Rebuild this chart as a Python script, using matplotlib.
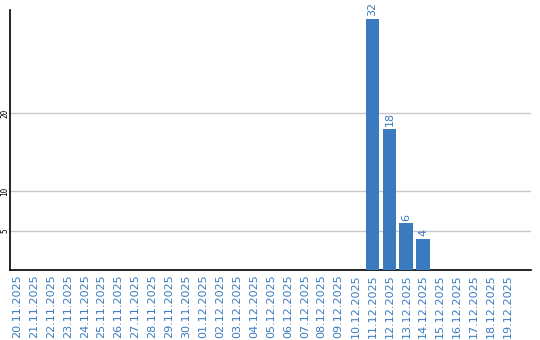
import matplotlib.pyplot as plt
import numpy as np
import datetime as dt

# Datoer fra 20.11.2025 til 19.12.2025
start = dt.date(2025, 11, 20)
datoer = [(start + dt.timedelta(days=i)).strftime('%d.%m.%Y') for i in range(30)]
verdier = [0] * 30
verdier[datoer.index('11.12.2025')] = 32
verdier[datoer.index('12.12.2025')] = 18
verdier[datoer.index('13.12.2025')] = 6
verdier[datoer.index('14.12.2025')] = 4

ytikker = [5, 10, 20]
blå = '#3a7bbf'

fig = plt.figure(figsize=(5.4, 3.4), dpi=100)
ax = fig.add_axes([10 / 540, 70 / 340, 521 / 540, 260 / 340])

x = np.arange(len(datoer))
ax.bar(x, verdier, width=0.82, color=blå, zorder=3)

# Verdietiketter over søylene (bare der det er data)
for xi, v in zip(x, verdier):
    if v > 0:
        ax.text(xi, v + 0.3, str(v), rotation=90, ha='center', va='bottom',
                color=blå, fontsize=8)

ax.set_xlim(-0.41, 30.36)
ax.set_ylim(0, 33.1)
ax.set_xticks(x)
ax.set_xticklabels(datoer, rotation=90, color=blå, fontsize=8)
ax.set_yticks(ytikker)
ax.set_yticklabels([str(t) for t in ytikker], rotation=90, fontsize=5.5,
                   va='center', family='DejaVu Sans Mono')
ax.tick_params(length=0, pad=3)
ax.tick_params(axis='y', pad=0.5)
ax.grid(axis='y', color='#c8c8c8', linewidth=1, zorder=0)
for s in ['top', 'right']:
    ax.spines[s].set_visible(False)
ax.spines['left'].set_linewidth(1.2)
ax.spines['bottom'].set_linewidth(1.2)

fig.savefig('out.png', dpi=100)
